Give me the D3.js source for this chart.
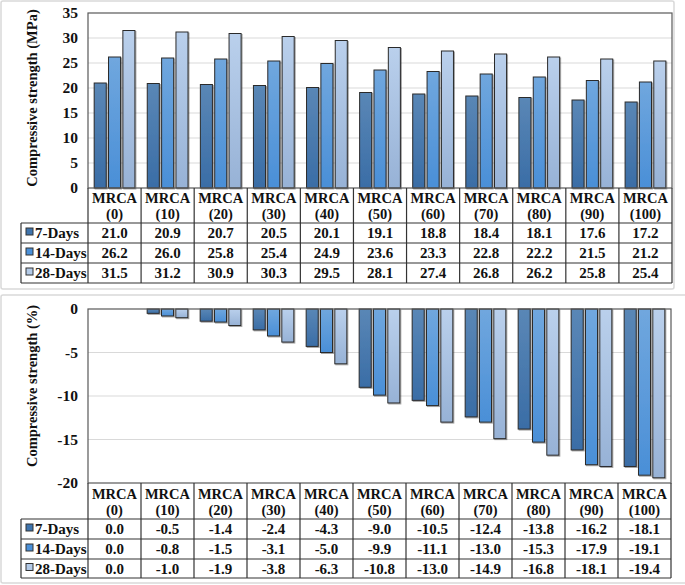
<!DOCTYPE html>
<html><head><meta charset="utf-8">
<script src="https://cdn.jsdelivr.net/npm/d3@7"></script>
<style>
html,body{margin:0;padding:0;background:#fff;}
svg{display:block;}
</style></head>
<body>
<svg id="chart" width="685" height="585"></svg>
<script>
const categories = ["MRCA (0)","MRCA (10)","MRCA (20)","MRCA (30)","MRCA (40)","MRCA (50)","MRCA (60)","MRCA (70)","MRCA (80)","MRCA (90)","MRCA (100)"];
const seriesNames = ["7-Days","14-Days","28-Days"];
const strength7  = [21.0,20.9,20.7,20.5,20.1,19.1,18.8,18.4,18.1,17.6,17.2];
const strength14 = [26.2,26.0,25.8,25.4,24.9,23.6,23.3,22.8,22.2,21.5,21.2];
const strength28 = [31.5,31.2,30.9,30.3,29.5,28.1,27.4,26.8,26.2,25.8,25.4];
const change7  = [0.0,-0.5,-1.4,-2.4,-4.3,-9.0,-10.5,-12.4,-13.8,-16.2,-18.1];
const change14 = [0.0,-0.8,-1.5,-3.1,-5.0,-9.9,-11.1,-13.0,-15.3,-17.9,-19.1];
const change28 = [0.0,-1.0,-1.9,-3.8,-6.3,-10.8,-13.0,-14.9,-16.8,-18.1,-19.4];
const ticksTop = [0,5,10,15,20,25,30,35];
const ticksBottom = [0,-5,-10,-15,-20];

const FONT = "Liberation Serif";
const fmt1 = d => d.toFixed(1);
const fmt0 = d => String(d);

const svg = d3.select("#chart");
const defs = svg.append("defs");
const grads = [
  ["g0","#5a87b6","#3a6da6"],
  ["g1","#70a7de","#4a8fd7"],
  ["g2","#bad0ec","#97b2d6"]
];
grads.forEach(([id,c1,c2])=>{
  const g = defs.append("linearGradient").attr("id",id).attr("x1",0).attr("y1",0).attr("x2",0).attr("y2",1);
  g.append("stop").attr("offset","0%").attr("stop-color",c1);
  g.append("stop").attr("offset","100%").attr("stop-color",c2);
});
const f = defs.append("filter").attr("id","sh").attr("x","-20%").attr("y","-20%").attr("width","150%").attr("height","150%");
f.append("feDropShadow").attr("dx",1).attr("dy",1).attr("stdDeviation",0.7).attr("flood-color","#000").attr("flood-opacity",0.35);
const markerColors = ["#3f74ad","#4a90d9","#b4cbe8"];

function T(sel){ return sel.style("font-family",FONT).style("font-weight","bold").attr("fill","#111"); }

function panel(opts){
  const {frame, left, right, top, bottom, domain, ticks, series, title, titleY, rows, hdrY, lastY} = opts;
  svg.append("rect").attr("x",frame[0]).attr("y",frame[1]).attr("width",frame[2]).attr("height",frame[3])
    .attr("fill","#fff").attr("stroke","#d9d9d9").attr("stroke-width",1.5).attr("rx",2);
  const x = d3.scaleBand().domain(categories).range([left,right]).padding(0);
  const xs = d3.scaleBand().domain(seriesNames).range([0,x.bandwidth()]).paddingInner(0.16).paddingOuter(0.43);
  const y = d3.scaleLinear().domain(domain).range([bottom,top]);
  const g = svg.append("g");
  g.selectAll(".grid").data(ticks.filter(t=>t!==domain[0]&&t!==domain[1])).join("line")
    .attr("x1",left).attr("x2",right).attr("y1",d=>y(d)).attr("y2",d=>y(d))
    .attr("stroke","#d9d9d9").attr("stroke-width",1);
  const ax = d3.axisLeft(y).tickValues(ticks).tickSize(0).tickPadding(10).tickFormat(fmt0);
  const axg = g.append("g").attr("transform",`translate(${left},0)`).call(ax);
  axg.select(".domain").remove();
  T(axg.selectAll("text")).style("font-size","15.5px");
  T(g.append("text").attr("transform",`translate(${left-51},${titleY}) rotate(-90)`).attr("text-anchor","middle")
    .style("font-size","14.5px")).text(title);
  series.forEach((vals,si)=>{
    g.selectAll(".b"+si).data(vals).join("rect")
      .attr("x",(d,i)=>x(categories[i])+xs(seriesNames[si]))
      .attr("width",xs.bandwidth())
      .attr("y",d=>Math.min(y(d),y(0)))
      .attr("height",d=>Math.abs(y(d)-y(0)))
      .attr("fill",`url(#g${si})`).attr("stroke",d=>d===0?"#c8c8c8":"#2b2b2b").attr("stroke-width",1)
      .attr("filter",d=>d===0?null:"url(#sh)");
  });
  g.append("rect").attr("x",left).attr("y",top).attr("width",right-left).attr("height",bottom-top)
    .attr("fill","none").attr("stroke","#595959").attr("stroke-width",1.2);
  const tb = g.append("g");
  const lineC = "#333";
  const bounds = categories.map(c=>x(c)).concat([right]);
  tb.selectAll(".v").data(bounds).join("line")
    .attr("x1",d=>d).attr("x2",d=>d).attr("y1",bottom).attr("y2",lastY)
    .attr("stroke",lineC).attr("stroke-width",1.2);
  const legL = 21;
  tb.append("line").attr("x1",legL).attr("x2",legL).attr("y1",rows[0]).attr("y2",lastY).attr("stroke",lineC).attr("stroke-width",1.2);
  const rb = [rows[0],rows[1],rows[2],lastY];
  rb.forEach(yy=>{
    tb.append("line").attr("x1",legL).attr("x2",right).attr("y1",yy).attr("y2",yy).attr("stroke",lineC).attr("stroke-width",1.2);
  });
  categories.forEach(c=>{
    const parts = c.split(" ");
    const cx = x(c)+x.bandwidth()/2;
    T(tb.append("text").attr("x",cx).attr("y",hdrY).attr("text-anchor","middle").style("font-size","14.5px")).text(parts[0]);
    T(tb.append("text").attr("x",cx).attr("y",hdrY+16).attr("text-anchor","middle").style("font-size","14.5px")).text(parts[1]);
  });
  series.forEach((vals,si)=>{
    const cy = (rb[si]+rb[si+1])/2 + 5;
    tb.append("rect").attr("x",26).attr("y",cy-10).attr("width",7).attr("height",7)
      .attr("fill",markerColors[si]).attr("stroke","#333").attr("stroke-width",1);
    T(tb.append("text").attr("x",35).attr("y",cy).style("font-size","15px")).text(seriesNames[si]);
    T(tb.selectAll(".t"+si).data(vals).join("text")
      .attr("x",(d,i)=>x(categories[i])+x.bandwidth()/2).attr("y",cy)
      .attr("text-anchor","middle").style("font-size","15px")).text(d=>fmt1(d));
  });
}

panel({frame:[1,1,673,288], left:88, right:672, top:13, bottom:188, domain:[0,35], ticks:ticksTop,
  series:[strength7,strength14,strength28], title:"Compressive strength (MPa)", titleY:98,
  rows:[223,243,263], hdrY:203, lastY:283});
panel({frame:[1,295,690,288], left:88, right:671, top:309, bottom:483, domain:[-20,0], ticks:ticksBottom,
  series:[change7,change14,change28], title:"Compressive strength (%)", titleY:386,
  rows:[519,539,559], hdrY:499, lastY:578});
</script>
</body></html>
